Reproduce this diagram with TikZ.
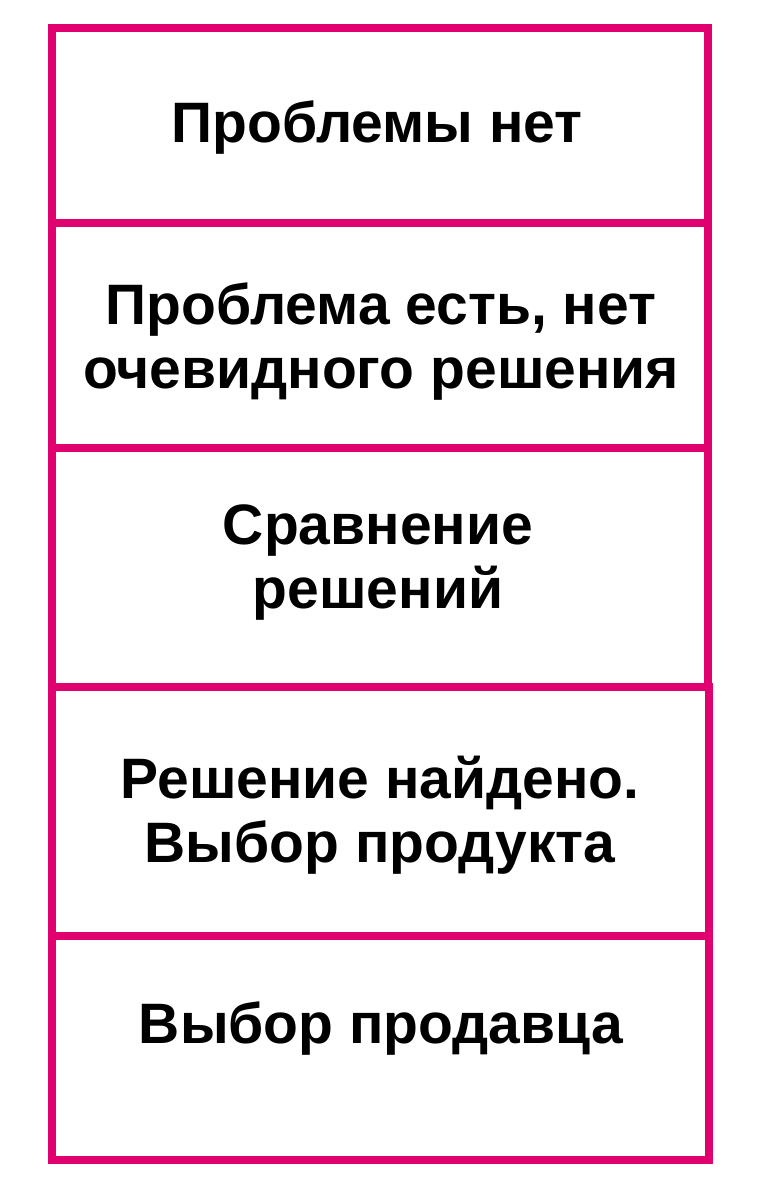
\documentclass[tikz,border=0pt]{standalone}
\usepackage{fontspec}
\setmainfont{Liberation Sans}
\definecolor{stagepink}{RGB}{224,0,112}
\tikzset{
  stagebox/.style={draw=stagepink, line width=8pt},
  stagetext/.style={font=\bfseries\fontsize{57}{64}\selectfont, align=center, anchor=base, inner sep=0pt}
}
\begin{document}
\begin{tikzpicture}[x=1pt,y=-1pt]
\useasboundingbox (0,0) rectangle (758,1200);

% base of the last line of each text
\coordinate (no-problem-label) at (377,142);
\coordinate (problem-label) at (381,388);
\coordinate (compare-label) at (378,608);
\coordinate (found-label) at (380,862);
\coordinate (seller-label) at (381,1043);

\draw [stagebox] (51.5,28) rectangle (708,223);
\draw [stagebox] (51.5,223) rectangle (708,448);
\draw [stagebox] (51.5,448) rectangle (708,687);
\draw [stagebox] (51.5,687) rectangle (708.5,936);
\draw [stagebox] (51.5,936) rectangle (708.5,1160);

\node (no-problem) [stagetext] at (no-problem-label) {Проблемы нет};
\node (problem) [stagetext] at (problem-label) {Проблема есть, нет\\очевидного решения};
\node (compare) [stagetext] at (compare-label) {Сравнение\\решений};
\node (found) [stagetext] at (found-label) {Решение найдено.\\Выбор продукта};
\node (seller) [stagetext] at (seller-label) {Выбор продавца};

\end{tikzpicture}
\end{document}
